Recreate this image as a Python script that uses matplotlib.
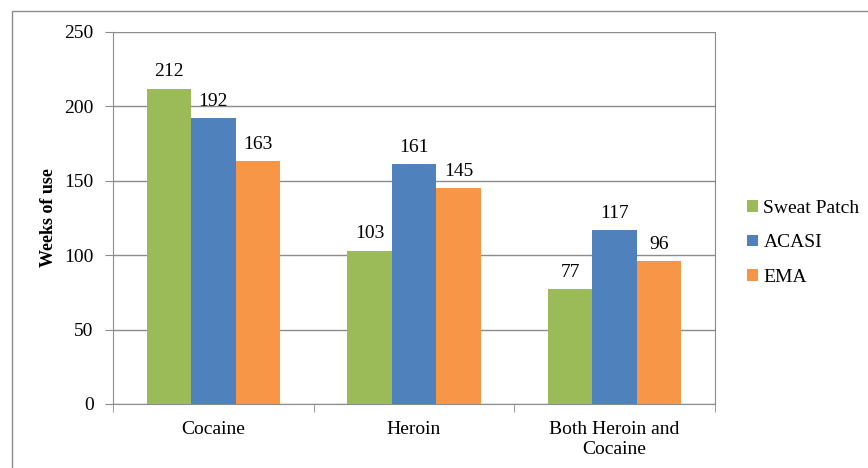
import numpy as np
import matplotlib.pyplot as plt
from matplotlib.patches import Rectangle

# Weeks of use by substance and measurement method
categories = ['Cocaine', 'Heroin', 'Both Heroin and\nCocaine']
series_names = ['Sweat Patch', 'ACASI', 'EMA']
sweat_patch = [212, 103, 77]
acasi = [192, 161, 117]
ema = [163, 145, 96]
y_ticks = [0, 50, 100, 150, 200, 250]

colors = ['#9BBB59', '#4F81BD', '#F79646']
serif = 'Liberation Serif'

fig = plt.figure(figsize=(8.68, 4.68), dpi=100)
ax = fig.add_axes([0.1302, 0.1368, 0.6935, 0.7949])

# light frame around the chart area (top and left edges only visible)
fig.patches.append(Rectangle((12 / 868, -0.1), 1.0, 1 - 11 / 468 + 0.1,
                             transform=fig.transFigure, fill=False,
                             edgecolor='#8c8c8c', linewidth=1.0))

x = np.arange(len(categories))
width = 0.222
for i, (name, vals) in enumerate(zip(series_names, [sweat_patch, acasi, ema])):
    pos = x + (i - 1) * width
    bars = ax.bar(pos, vals, width, color=colors[i], label=name, zorder=3)
    for b, v in zip(bars, vals):
        ax.annotate(str(v), (b.get_x() + b.get_width() / 2, v),
                    xytext=(0, 6), textcoords='offset points',
                    ha='center', va='bottom', fontsize=14, family=serif)

ax.set_xlim(-0.5, 2.5)
ax.set_ylim(0, 250)
ax.set_yticks(y_ticks)
ax.set_yticklabels([str(t) for t in y_ticks], fontsize=14, family=serif)
ax.yaxis.grid(True, color='#8c8c8c', linewidth=1.0, zorder=0)

ax.set_xticks(x)
ax.set_xticklabels(categories, fontsize=14, family=serif, linespacing=1.25)
ax.tick_params(axis='x', which='major', length=0, pad=12)
ax.set_xticks([-0.5, 0.5, 1.5, 2.5], minor=True)
ax.tick_params(axis='x', which='minor', length=6, color='#8c8c8c')
ax.tick_params(axis='y', length=6, color='#8c8c8c', pad=8)

for side in ['left', 'right', 'bottom']:
    ax.spines[side].set_color('#8c8c8c')
ax.spines['top'].set_visible(False)

ax.set_ylabel('Weeks of use', fontsize=13, fontweight='bold', family=serif,
              labelpad=5)

leg = ax.legend(loc='center left', bbox_to_anchor=(1.04, 0.433), frameon=False,
                prop={'family': serif, 'size': 14}, handlelength=0.55,
                handleheight=0.55, handletextpad=0.3, labelspacing=0.9,
                borderaxespad=0.0)

fig.savefig('out.png', dpi=100, facecolor='white')
